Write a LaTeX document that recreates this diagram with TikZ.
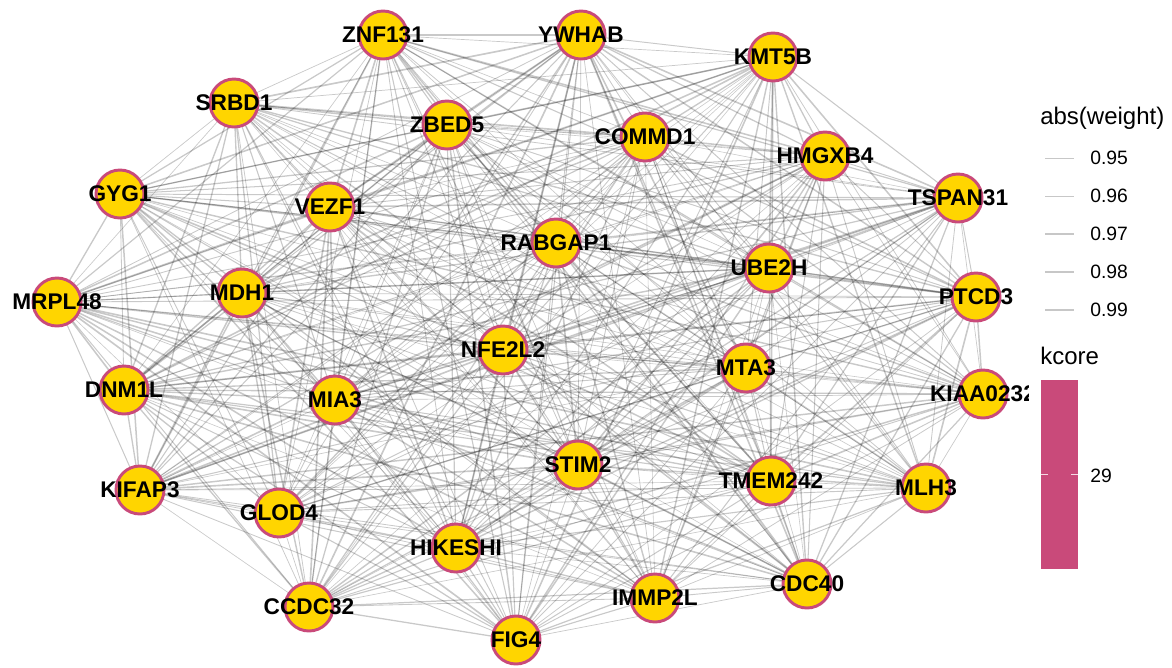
\documentclass[tikz,border=0pt]{standalone}
\usepackage{fontspec}
\setmainfont{Liberation Sans}
\usetikzlibrary{backgrounds}
\definecolor{nodefill}{HTML}{FFD500}
\definecolor{nodeborder}{HTML}{C94A7A}
\begin{document}
\begin{tikzpicture}[x=0.75pt,y=-0.75pt,
  gene/.style={circle,draw=nodeborder,fill=nodefill,line width=2.2pt,minimum size=36pt,inner sep=0pt},
  genelabel/.style={font=\bfseries\fontsize{17}{18}\selectfont,text=black,inner sep=0pt},
  edge/.style={draw=black,opacity=0.21},
  legtext/.style={font=\fontsize{14.5}{16}\selectfont,anchor=west,inner sep=0pt},
  legtitle/.style={font=\fontsize{18}{19}\selectfont,anchor=west,inner sep=0pt}]
\useasboundingbox (0,0) rectangle (1172,668);
\pgfmathsetseed{7}
% node positions
\foreach \n/\x/\y in {
  ZNF131/383/35, YWHAB/581/35, KMT5B/773/57, SRBD1/234/103, ZBED5/447/125,
  COMMD1/645/137, HMGXB4/825/156, GYG1/120/194, VEZF1/330/207, TSPAN31/958/198,
  RABGAP1/556/243, UBE2H/769/268, MRPL48/57/302, MDH1/242/293, PTCD3/976/297,
  NFE2L2/503/350, MTA3/746/368, DNM1L/124/390, MIA3/335/400, KIAA0232/983/394,
  STIM2/578/465, TMEM242/771/481, MLH3/926/488, KIFAP3/140/490, GLOD4/279/513,
  HIKESHI/456/548, CDC40/807/584, IMMP2L/655/598, CCDC32/309/607, FIG4/516/640}
  {\coordinate (p-\n) at (\x,\y);}
\def\genelist{ZNF131,YWHAB,KMT5B,SRBD1,ZBED5,COMMD1,HMGXB4,GYG1,VEZF1,TSPAN31,RABGAP1,UBE2H,MRPL48,MDH1,PTCD3,NFE2L2,MTA3,DNM1L,MIA3,KIAA0232,STIM2,TMEM242,MLH3,KIFAP3,GLOD4,HIKESHI,CDC40,IMMP2L,CCDC32,FIG4}
% edges (complete graph)
\foreach \a [count=\i] in \genelist {
  \foreach \b [count=\j] in \genelist {
    \ifnum\j>\i
      \pgfmathsetmacro\w{0.4+0.85*rnd}
      \draw[edge,line width=\w pt] (p-\a) -- (p-\b);
    \fi
  }
}
% nodes
\foreach \n in \genelist { \node[gene] (n-\n) at (p-\n) {}; }
% labels
\begin{scope}
\clip (0,0) rectangle (1028,668);
\foreach \n in \genelist { \node[genelabel] (l-\n) at (p-\n) {\n}; }
\end{scope}
% legend: abs(weight)
\node[legtitle] (t1) at (1040,118) {abs(weight)};
\foreach \v/\y/\w [count=\k] in {0.95/158/0.35, 0.96/196/0.6, 0.97/234/0.85, 0.98/272/1.1, 0.99/310/1.35} {
  \coordinate (la\k) at (1045,\y);
  \coordinate (lb\k) at (1074,\y);
  \draw[draw=black,opacity=0.22,line width=\w pt] (la\k) -- (lb\k);
  \node[legtext] (lt\k) at (1090,\y) {\v};
}
% legend: kcore
\node[legtitle] (t2) at (1040,356) {kcore};
\fill[nodeborder] (1041,380) rectangle (1078,569);
\draw[white,line width=0.6pt,opacity=0.8] (1041,474) -- (1048,474) (1071,474) -- (1078,474);
\node[legtext] (k29) at (1090,476) {29};
\end{tikzpicture}
\end{document}
